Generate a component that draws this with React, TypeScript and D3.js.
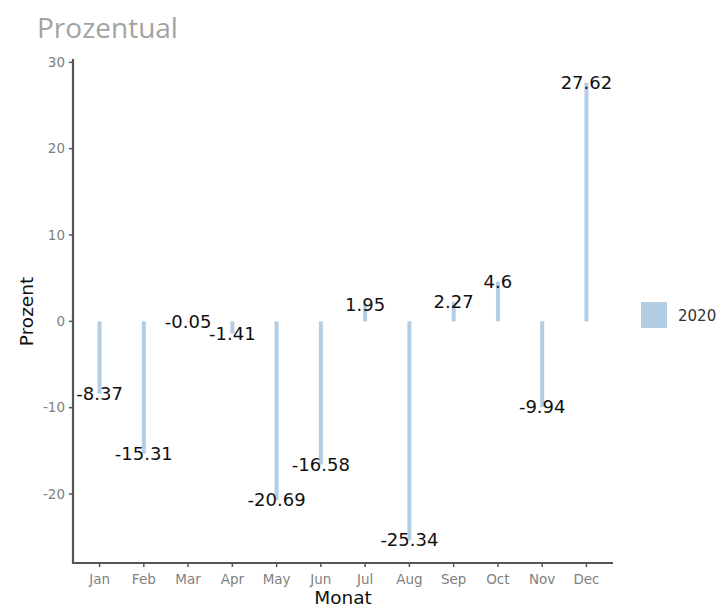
import React from 'react';
import * as d3 from 'd3';

const months = ['Jan', 'Feb', 'Mar', 'Apr', 'May', 'Jun', 'Jul', 'Aug', 'Sep', 'Oct', 'Nov', 'Dec'];
const values2020 = [-8.37, -15.31, -0.05, -1.41, -20.69, -16.58, 1.95, -25.34, 2.27, 4.6, -9.94, 27.62];
const yTicks = [-20, -10, 0, 10, 20, 30];
const seriesName = '2020';

const W = 720;
const H = 606;
const margin = { top: 60, right: 107, bottom: 43, left: 73 };
const barColor = '#b3cde3';
const font = 'DejaVu Sans, sans-serif';

export default function App() {
  const lo = d3.min(values2020) as number;
  const hi = d3.max(values2020) as number;
  const pad = (hi - lo) * 0.05;

  const y = d3
    .scaleLinear()
    .domain([lo - pad, hi + pad])
    .range([H - margin.bottom, margin.top]);

  const x = d3
    .scalePoint<string>()
    .domain(months)
    .range([margin.left, W - margin.right])
    .padding(0.6);

  const x0 = margin.left;
  const x1 = W - margin.right;
  const yBottom = H - margin.bottom;
  const yTop = margin.top;
  const barW = 4;

  return (
    <svg width={W} height={H} style={{ position: 'absolute', left: 0, top: 0 }}>
      <rect width={W} height={H} fill="#fff" />
      <text x={37} y={38} fontFamily="Open Sans, sans-serif" fontSize={28} fill="#a3a3a3">
        Prozentual
      </text>

      {months.map((m, i) => {
        const v = values2020[i];
        const top = y(Math.max(0, v));
        const bot = y(Math.min(0, v));
        return (
          <rect
            key={m}
            x={(x(m) as number) - barW / 2}
            y={top}
            width={barW}
            height={Math.max(bot - top, 0.5)}
            fill={barColor}
          />
        );
      })}

      {months.map((m, i) => (
        <text
          key={'l' + m}
          x={x(m) as number}
          y={y(values2020[i])}
          dy="0.35em"
          textAnchor="middle"
          fontFamily={font}
          fontSize={18}
          fill="#111"
        >
          {String(values2020[i])}
        </text>
      ))}

      {/* y axis */}
      <line x1={x0} x2={x0} y1={yTop - 1} y2={yBottom + 1} stroke="#555" strokeWidth={2.2} />
      {yTicks.map(t => (
        <g key={t} transform={`translate(0,${y(t)})`}>
          <line x1={x0 - 4} x2={x0} stroke="#555" strokeWidth={1.5} />
          <text x={x0 - 8} dy="0.35em" textAnchor="end" fontFamily={font} fontSize={13.5} fill="#7f7f7f">
            {t}
          </text>
        </g>
      ))}

      {/* x axis */}
      <line x1={x0 - 1} x2={x1} y1={yBottom} y2={yBottom} stroke="#555" strokeWidth={2.2} />
      {months.map(m => (
        <g key={'t' + m} transform={`translate(${x(m)},0)`}>
          <line y1={yBottom} y2={yBottom + 4} stroke="#555" strokeWidth={1.5} />
          <text y={yBottom + 21} textAnchor="middle" fontFamily={font} fontSize={13.5} fill="#7f7f7f">
            {m}
          </text>
        </g>
      ))}

      <text x={(x0 + x1) / 2} y={H - 2} textAnchor="middle" fontFamily={font} fontSize={18.5} fill="#111">
        Monat
      </text>
      <text
        transform={`translate(33,${(yTop + yBottom) / 2}) rotate(-90)`}
        textAnchor="middle"
        fontFamily={font}
        fontSize={18.5}
        fill="#111"
      >
        Prozent
      </text>

      {/* legend */}
      <rect x={641} y={302} width={26} height={26} fill={barColor} />
      <text x={678} y={316} dy="0.35em" fontFamily={font} fontSize={15} fill="#333">
        {seriesName}
      </text>
    </svg>
  );
}
